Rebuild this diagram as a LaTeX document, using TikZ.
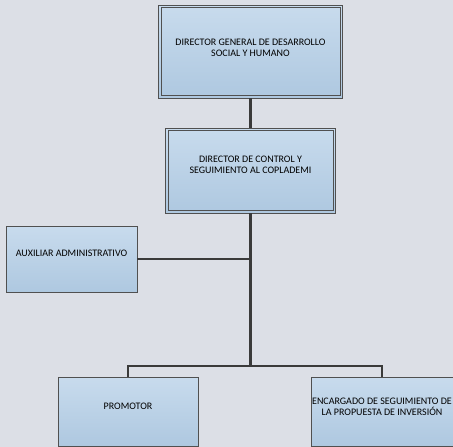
\documentclass[tikz,border=0pt]{standalone}
\usepackage{fontspec}
\setmainfont{Carlito}
\definecolor{boxtop}{HTML}{C8DBED}
\definecolor{boxbot}{HTML}{AEC8E0}
\definecolor{fondo}{HTML}{DCDFE6}
\definecolor{linea}{HTML}{3A3A3A}
\definecolor{borde}{HTML}{505050}
\tikzset{
  puesto/.style={rectangle,top color=boxtop,bottom color=boxbot,draw=borde,thin,
    font=\fontsize{10}{11.5}\selectfont,text=black,align=center,inner sep=1pt},
  jefe/.style={puesto,thick},
  marco/.style={draw=borde,thin},
  enlace/.style={draw=linea,line width=2.6pt},
}

\begin{document}
\begin{tikzpicture}[x=1pt,y=-1pt]
      \fill [fondo] (0,0) rectangle (453,447);
      \useasboundingbox (0,0) rectangle (453,447);
      \node [jefe,minimum width=184pt,minimum height=93pt] at (250.5,51.5) (dirgen)
        {DIRECTOR GENERAL DE DESARROLLO\\SOCIAL Y HUMANO\\[-4pt]};
      \node [jefe,minimum width=170pt,minimum height=85pt] at (250.5,170.5) (dircon)
        {DIRECTOR DE CONTROL Y\\SEGUIMIENTO AL COPLADEMI\\[-0.5pt]};
      \node [puesto,minimum width=131pt,minimum height=66pt] at (71.5,259) (aux)
        {AUXILIAR ADMINISTRATIVO\\[0.5pt]};
      \node [puesto,minimum width=140pt,minimum height=69pt] at (128,411.5) (prom)
        {PROMOTOR\\[-0.5pt]};
      \node [puesto,minimum width=142pt,minimum height=69pt] at (382,411.5) (enc)
        {ENCARGADO DE SEGUIMIENTO DE\\LA PROPUESTA DE INVERSIÓN\\[-2.5pt]};
      % marco interior de los dos directores
      \foreach \n in {dirgen,dircon}
      {
        \draw [marco] ([shift={(3pt,-3pt)}]\n.north west) rectangle ([shift={(-3pt,3pt)}]\n.south east) ;
      }
      \coordinate (bus) at (250.5,366);
      \draw [enlace] (dirgen.south) -- (dircon.north) ;
      \draw [enlace] (dircon.south) -- (bus) ;
      \draw [enlace] (aux.east) -- (dircon.south |- aux.east) ;
      \draw [enlace] (prom.north) |- (bus) -| (enc.north) ;
    \end{tikzpicture}
\end{document}
